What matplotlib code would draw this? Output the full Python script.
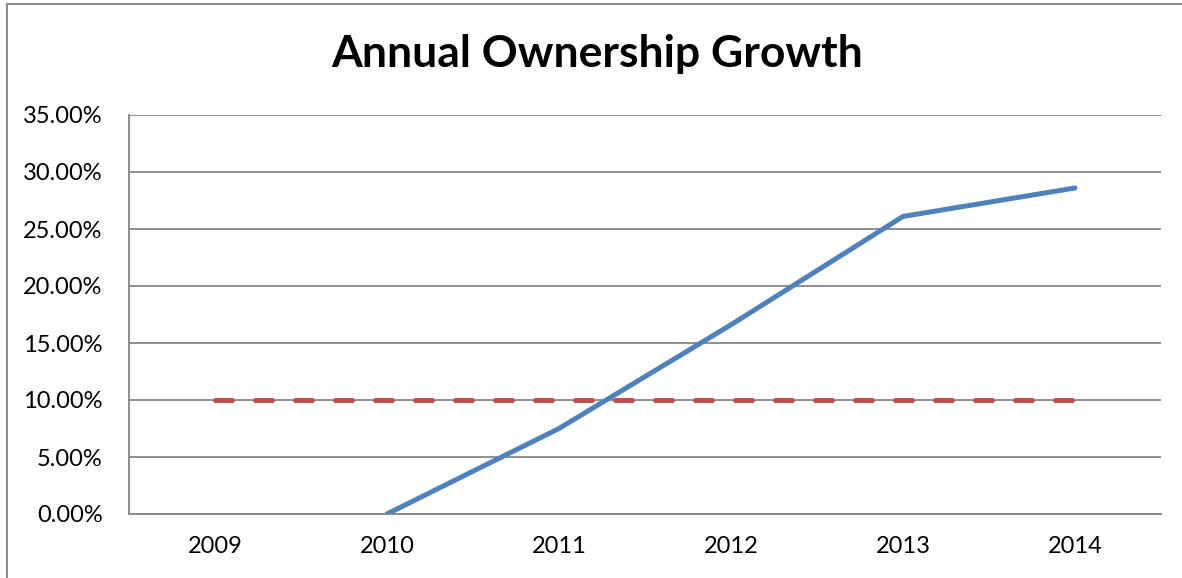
import matplotlib
matplotlib.use("Agg")
import matplotlib.pyplot as plt
from matplotlib.lines import Line2D
from matplotlib.ticker import FuncFormatter

years = ["2009", "2010", "2011", "2012", "2013", "2014"]
growth_years = ["2010", "2011", "2012", "2013", "2014"]
growth = [0.0, 0.075, 0.166, 0.261, 0.286]
target = [0.10, 0.10, 0.10, 0.10, 0.10, 0.10]

W, H = 1182, 578
BLUE = "#4F81BD"
RED = "#C0504D"
GRID = "#868686"

plt.rcParams["font.family"] = ["Lato", "DejaVu Sans"]

fig = plt.figure(figsize=(W / 100, H / 100), dpi=100)

# chart area border: only the top and left edges fall inside the image
bx, by = 7 / W, 1 - 3.5 / H
fig.lines.append(Line2D([bx, bx], [0, by], transform=fig.transFigure,
                        color="#8c8c8c", linewidth=1.5))
fig.lines.append(Line2D([bx, 1], [by, by], transform=fig.transFigure,
                        color="#8c8c8c", linewidth=1.5))

left, right, top, bottom = 129, 1161, 115, 514
ax = fig.add_axes([left / W, (H - bottom) / H, (right - left) / W, (bottom - top) / H])

x_all = list(range(len(years)))
x_growth = [years.index(y) for y in growth_years]

red_line, = ax.plot(x_all, target, color=RED, linewidth=3.6,
                    solid_capstyle="round", dash_capstyle="round")
red_line.set_dashes((3.4, 4.6))
ax.plot(x_growth, growth, color=BLUE, linewidth=3.6,
        solid_capstyle="round", solid_joinstyle="miter")

ax.set_xlim(-0.5, len(years) - 0.5)
ax.set_ylim(0, 0.35)
ax.set_yticks([i * 0.05 for i in range(8)])
ax.yaxis.set_major_formatter(FuncFormatter(lambda v, p: f"{v * 100:.2f}%"))
ax.set_xticks(x_all)
ax.set_xticklabels(years)

ax.grid(axis="y", color=GRID, linewidth=1.3)
ax.set_axisbelow(True)
for side in ["top", "right"]:
    ax.spines[side].set_visible(False)
for side in ["left", "bottom"]:
    ax.spines[side].set_color(GRID)
    ax.spines[side].set_linewidth(1.3)

ax.tick_params(axis="both", length=0, labelsize=17, colors="black")
ax.tick_params(axis="y", pad=19)
ax.tick_params(axis="x", pad=16)

fig.text(597 / W, 1 - 54 / H, "Annual Ownership Growth", ha="center", va="center",
         fontsize=32, fontweight="bold")

fig.savefig("out.png", dpi=100)
